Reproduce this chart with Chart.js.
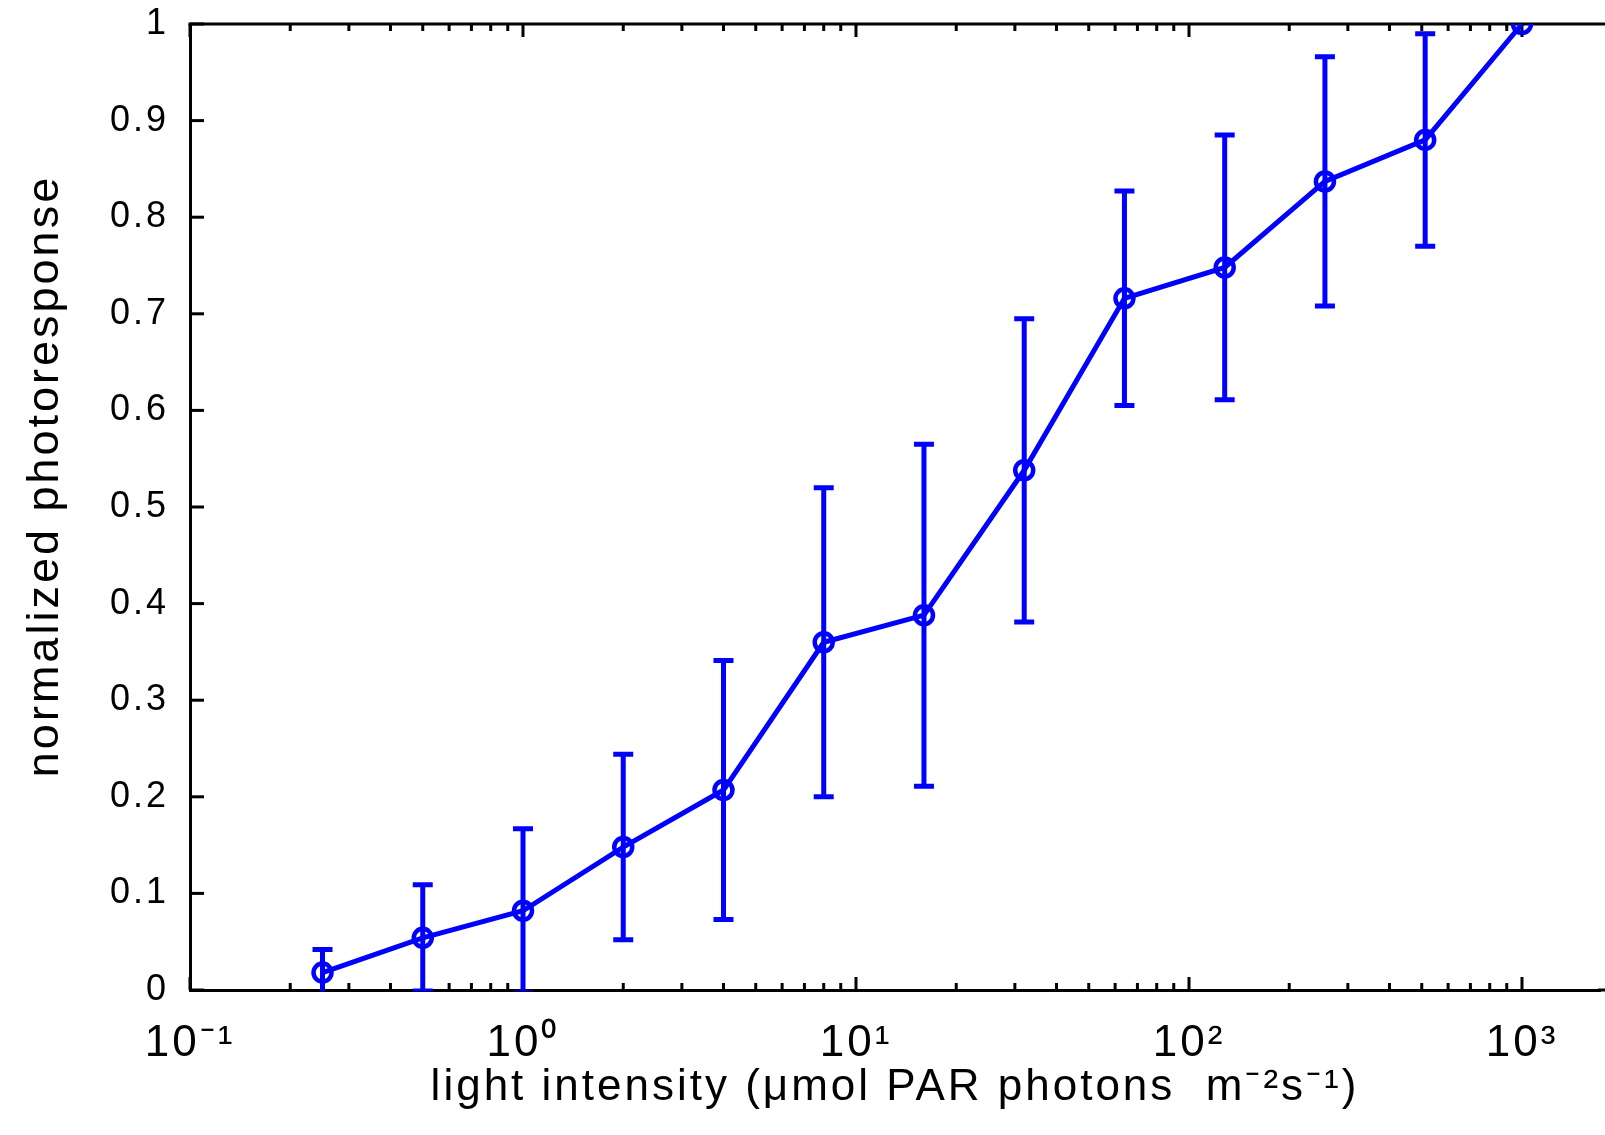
<!DOCTYPE html>
<html>
<head>
<meta charset="utf-8">
<title>normalized photoresponse</title>
<script src="https://cdn.jsdelivr.net/npm/chart.js@4.4.1/dist/chart.umd.min.js"></script>
<style>
  html, body { margin: 0; padding: 0; background: #fff; overflow: hidden; }
  canvas { display: block; }
</style>
</head>
<body>
<canvas id="chart_photoresponse" width="1605" height="1135"></canvas>
<script>
// measured values
var intensity   = [0.25, 0.5, 1, 2, 4, 8, 16, 32, 64, 128, 256, 512, 1000];
var response    = [0.018, 0.054, 0.082, 0.148, 0.207, 0.360, 0.388, 0.538, 0.716, 0.748, 0.837, 0.880, 1.0];
var responseErr = [0.024, 0.055, 0.085, 0.096, 0.134, 0.160, 0.177, 0.157, 0.111, 0.137, 0.129, 0.110, 0];

var xMajorValues = [0.1, 1, 10, 100, 1000];
var xTickLabels  = ['10\u207B\u00B9', '10\u2070', '10\u00B9', '10\u00B2', '10\u00B3'];
var xMinorSteps  = [2, 3, 4, 5, 6, 7, 8, 9];

var xTitle = 'light intensity (\u03BCmol PAR photons  m\u207B\u00B2s\u207B\u00B9)';
var yTitle = '    normalized photoresponse';

var lineColor = '#0000ff';
var fontFamily = '"Liberation Sans", Arial, Helvetica, sans-serif';
var letterSpace = '3px';

var xTickValues = [];
xMajorValues.forEach(function (d, i) {
    xTickValues.push(d);
    if (i < xMajorValues.length - 1) {
        xMinorSteps.forEach(function (m) { xTickValues.push(Number((d * m).toPrecision(3))); });
    }
});

function isDecade(v) {
    var l = Math.log10(v);
    return Math.abs(l - Math.round(l)) < 1e-9;
}

var matlabAxes = {
    id: 'matlabAxes',
    beforeUpdate: function (chart) {
        chart.ctx.letterSpacing = letterSpace;
    },
    beforeDraw: function (chart) {
        var ctx = chart.ctx;
        ctx.letterSpacing = letterSpace;
        ctx.save();
        ctx.fillStyle = 'white';
        ctx.fillRect(0, 0, chart.width, chart.height);
        ctx.restore();
    },
    beforeDatasetsDraw: function (chart) {
        var ctx = chart.ctx, area = chart.chartArea;
        var x = chart.scales.x, y = chart.scales.y;
        ctx.save();
        ctx.strokeStyle = '#000';
        ctx.lineWidth = 3;
        // box edges run off the right of the picture
        ctx.beginPath();
        ctx.moveTo(area.left - 1.5, area.top);
        ctx.lineTo(chart.width, area.top);
        ctx.moveTo(area.right - 2, area.bottom);
        ctx.lineTo(chart.width, area.bottom);
        ctx.stroke();
        // inward ticks, bottom and top
        x.ticks.forEach(function (t) {
            var px = x.getPixelForValue(t.value);
            var len = isDecade(t.value) ? 13 : 7;
            ctx.beginPath();
            ctx.moveTo(px, area.bottom);
            ctx.lineTo(px, area.bottom - len);
            ctx.moveTo(px, area.top);
            ctx.lineTo(px, area.top + len);
            ctx.stroke();
        });
        y.ticks.forEach(function (t) {
            var py = y.getPixelForValue(t.value);
            ctx.beginPath();
            ctx.moveTo(area.left, py);
            ctx.lineTo(area.left + 14, py);
            ctx.stroke();
        });
        ctx.restore();
    },
    afterDatasetsDraw: function (chart) {
        var ctx = chart.ctx, area = chart.chartArea;
        var x = chart.scales.x, y = chart.scales.y;
        ctx.save();
        ctx.beginPath();
        ctx.rect(area.left, 0, area.right - area.left, area.bottom + 1.5);
        ctx.clip();
        ctx.strokeStyle = lineColor;
        ctx.lineWidth = 5;
        for (var i = 0; i < intensity.length; i++) {
            if (!responseErr[i]) continue;
            var px = x.getPixelForValue(intensity[i]);
            var top = y.getPixelForValue(response[i] + responseErr[i]);
            var bot = y.getPixelForValue(response[i] - responseErr[i]);
            ctx.beginPath();
            ctx.moveTo(px, top);
            ctx.lineTo(px, bot);
            ctx.moveTo(px - 10, top);
            ctx.lineTo(px + 10, top);
            ctx.moveTo(px - 10, bot);
            ctx.lineTo(px + 10, bot);
            ctx.stroke();
        }
        ctx.restore();
    }
};

var chart_photoresponse = new Chart(document.getElementById('chart_photoresponse'), {
    type: 'line',
    data: {
        datasets: [{
            label: 'normalized photoresponse',
            data: intensity.map(function (v, i) { return { x: v, y: response[i] }; }),
            borderColor: lineColor,
            borderWidth: 5,
            tension: 0,
            fill: false,
            pointRadius: 9,
            pointBorderWidth: 4.5,
            pointBorderColor: lineColor,
            pointBackgroundColor: 'rgba(0,0,0,0)'
        }]
    },
    options: {
        animation: false,
        responsive: false,
        events: [],
        layout: {
            autoPadding: false,
            padding: { top: 24, right: 5, bottom: 0, left: 0 }
        },
        plugins: {
            legend: { display: false },
            tooltip: { enabled: false }
        },
        scales: {
            x: {
                type: 'logarithmic',
                min: 0.1,
                max: 1715,
                afterBuildTicks: function (scale) {
                    scale.ticks = xTickValues.map(function (v) { return { value: v }; });
                },
                afterFit: function (scale) {
                    scale.height = 145;
                    scale.paddingLeft = 0;
                    scale.paddingRight = 0;
                },
                grid: { display: false, drawTicks: false },
                border: { display: true, color: '#000', width: 3 },
                ticks: {
                    autoSkip: false,
                    maxRotation: 0,
                    minRotation: 0,
                    padding: 27,
                    color: '#000',
                    font: { family: fontFamily, size: 44 },
                    callback: function (value) {
                        var k = xMajorValues.indexOf(value);
                        return k >= 0 ? xTickLabels[k] : '';
                    }
                },
                title: {
                    display: true,
                    text: xTitle,
                    color: '#000',
                    font: { family: fontFamily, size: 44 },
                    padding: { top: 0, bottom: 21 }
                }
            },
            y: {
                type: 'linear',
                min: 0,
                max: 1,
                afterFit: function (scale) {
                    scale.width = 190;
                    scale.paddingTop = 0;
                    scale.paddingBottom = 0;
                },
                grid: { display: false, drawTicks: false },
                border: { display: true, color: '#000', width: 3 },
                ticks: {
                    stepSize: 0.1,
                    padding: 21,
                    color: '#000',
                    font: { family: fontFamily, size: 36 },
                    callback: function (value) { return Number(value.toFixed(1)).toString(); }
                },
                title: {
                    display: true,
                    text: yTitle,
                    color: '#000',
                    font: { family: fontFamily, size: 45 },
                    padding: { top: 19, bottom: 0 }
                }
            }
        }
    },
    plugins: [matlabAxes]
});
</script>
</body>
</html>
